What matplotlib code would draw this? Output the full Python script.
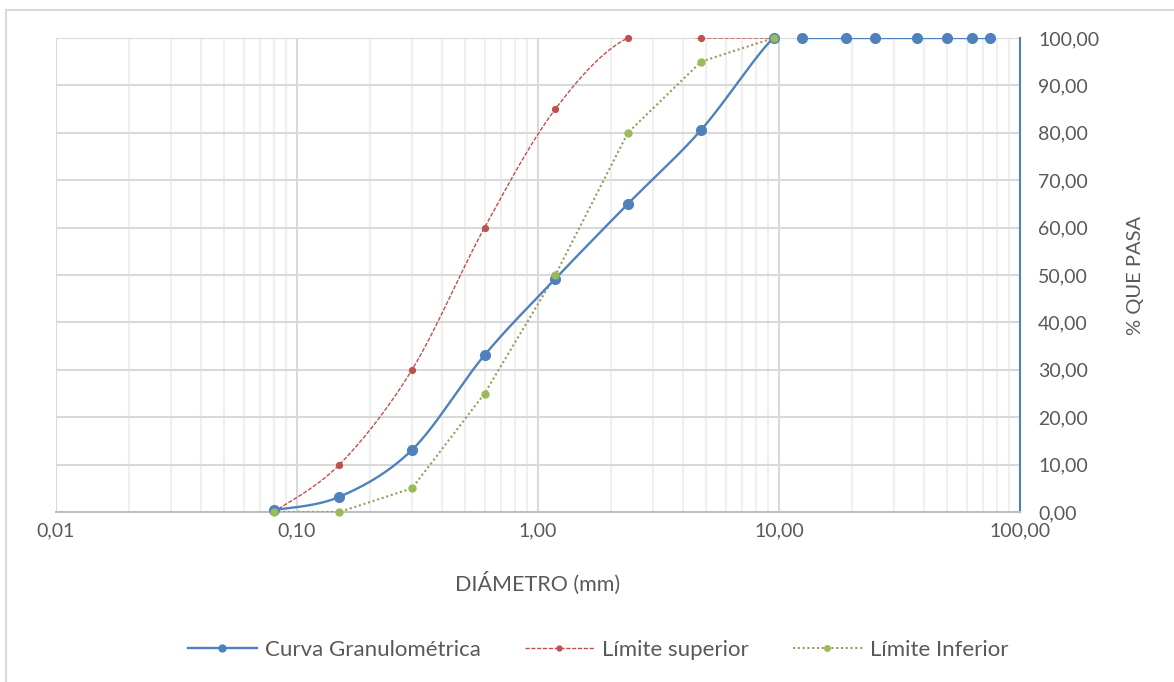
import numpy as np
import matplotlib
matplotlib.use("Agg")
import matplotlib.pyplot as plt
from matplotlib.ticker import FixedLocator, FuncFormatter, NullFormatter
from matplotlib.patches import Rectangle

plt.rcParams['font.family'] = ['Lato', 'DejaVu Sans']

# Data
curva_x = [0.08, 0.15, 0.30, 0.60, 1.18, 2.36, 4.75, 9.5, 12.5, 19.0, 25.0, 37.5, 50.0, 63.0, 75.0]
curva_y = [0.4, 3.2, 13.1, 33.1, 49.2, 65.0, 80.6, 100, 100, 100, 100, 100, 100, 100, 100]

sup_x = [0.08, 0.15, 0.30, 0.60, 1.18, 2.36, 4.75, 9.5]
sup_y = [0, 10, 30, 60, 85, 100, 100, 100]

inf_x = [0.08, 0.15, 0.30, 0.60, 1.18, 2.36, 4.75, 9.5]
inf_y = [0, 0, 5, 25, 50, 80, 95, 100]

x_ticks = [0.01, 0.1, 1, 10, 100]
x_tick_labels = ["0,01", "0,10", "1,00", "10,00", "100,00"]
y_ticks = list(range(0, 101, 10))


def smooth(xs, ys, n=40):
    """Bezier smoothing in log-x space (Excel-like smoothed line)."""
    lx = np.log10(np.asarray(xs, float))
    y = np.asarray(ys, float)
    P = np.column_stack([lx, y])
    P = np.vstack([P[0], P, P[-1]])
    out = []
    for i in range(1, len(P) - 2):
        p0, p1, p2, p3 = P[i - 1], P[i], P[i + 1], P[i + 2]
        c1 = p1 + (p2 - p0) / 6.0
        c2 = p2 - (p3 - p1) / 6.0
        t = np.linspace(0, 1, n)[:, None]
        seg = ((1 - t) ** 3) * p1 + 3 * ((1 - t) ** 2) * t * c1 + 3 * (1 - t) * t ** 2 * c2 + t ** 3 * p2
        out.append(seg if i == 1 else seg[1:])
    out = np.vstack(out)
    return 10 ** out[:, 0], out[:, 1]


fig = plt.figure(figsize=(11.74, 6.82), dpi=100)
W, H = 1174, 682
ax = fig.add_axes([56 / W, 1 - 512 / H, (1020 - 56) / W, (512 - 38) / H])

# outer chart border
fig.patches.append(Rectangle((6 / W, -0.05), 1.2, 1 - 10 / H + 0.05, transform=fig.transFigure,
                             fill=False, edgecolor='#d9d9d9', linewidth=1.5, zorder=0))

ax.set_xscale('log')
ax.set_xlim(0.01, 100)
ax.set_ylim(0, 100)

blue = '#4F81BD'
red = '#C0504D'
green = '#9BBB59'
olive = '#9a9a5a'

sx, sy = smooth(curva_x, curva_y)
ax.plot(sx, sy, color=blue, lw=1.7, zorder=4)
ax.plot(curva_x, curva_y, 'o', color=blue, ms=7, zorder=5, clip_on=False)

rx, ry = smooth(sup_x, sup_y)
ry = np.where(ry > 100.05, np.nan, ry)
ax.plot(rx, ry, color=red, lw=1.0, ls=(0, (3, 1.2)), zorder=3)
ax.plot(sup_x, sup_y, 'o', color=red, ms=4.2, zorder=3, clip_on=False)

ax.plot(inf_x, inf_y, color=olive, lw=1.5, ls=(0, (1, 1.3)), zorder=3)
ax.plot(inf_x, inf_y, 'o', color=green, ms=5, zorder=6, clip_on=False)

# legend proxies
ax.plot([], [], '-o', color=blue, lw=1.7, ms=5, label='Curva Granulométrica')
ax.plot([], [], color=red, lw=1.0, ls=(0, (3, 1.2)), marker='o', ms=3.5, label='Límite superior')
ax.plot([], [], color=olive, lw=1.5, ls=(0, (1, 1.3)), marker='o', ms=4, mfc=green, mec=green,
        label='Límite Inferior')

# grid
ax.xaxis.set_major_locator(FixedLocator(x_ticks))
ax.xaxis.set_minor_locator(FixedLocator([m * d for d in [0.01, 0.1, 1, 10] for m in range(2, 10)]))
ax.xaxis.set_major_formatter(FuncFormatter(lambda v, p: x_tick_labels[x_ticks.index(v)] if v in x_ticks else ''))
ax.xaxis.set_minor_formatter(NullFormatter())
ax.grid(True, which='major', axis='x', color='#d9d9d9', lw=1.5)
ax.grid(True, which='minor', axis='x', color='#efefef', lw=1.5)
ax.grid(True, which='major', axis='y', color='#d9d9d9', lw=1.5)
ax.set_axisbelow(True)

ax.yaxis.tick_right()
ax.yaxis.set_label_position('right')
ax.set_yticks(y_ticks)
ax.set_yticklabels([f"{v:.2f}".replace('.', ',') for v in y_ticks])

for s in ['top', 'left']:
    ax.spines[s].set_visible(False)
ax.spines['bottom'].set_color('#bfbfbf')
ax.spines['bottom'].set_linewidth(1.5)
ax.spines['right'].set_color(blue)
ax.spines['right'].set_linewidth(1.5)

ax.tick_params(which='both', length=0)
ax.tick_params(axis='x', labelsize=14, labelcolor='#595959', pad=7.5)
ax.tick_params(axis='y', labelsize=14, labelcolor='#595959', pad=13)

ax.set_xlabel('DIÁMETRO (mm)', fontsize=15.5, color='#595959', labelpad=23)
ax.set_ylabel('% QUE PASA', fontsize=14.5, color='#595959', labelpad=20)

fig.legend(loc='center', bbox_to_anchor=(598 / W, 1 - 650 / H), ncol=3, frameon=False,
           fontsize=16, labelcolor='#595959', handlelength=3.1, handletextpad=0.35,
           columnspacing=2.0)

fig.savefig('out.png', dpi=100, facecolor='white')
